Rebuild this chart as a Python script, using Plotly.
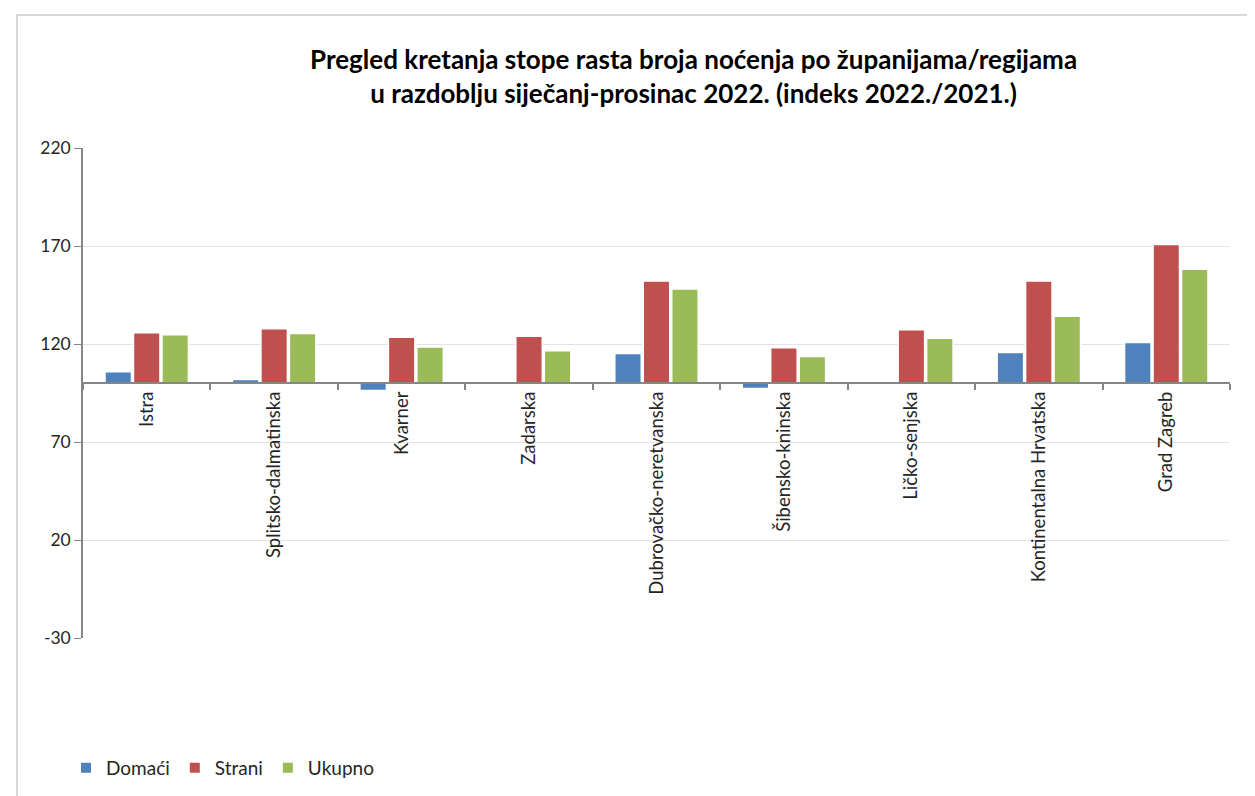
import plotly.graph_objects as go

categories = ["Istra", "Splitsko-dalmatinska", "Kvarner", "Zadarska",
              "Dubrovačko-neretvanska", "Šibensko-kninska", "Ličko-senjska",
              "Kontinentalna Hrvatska", "Grad Zagreb"]
domaci = [105.8, 101.9, 96.3, 99.2, 115.1, 97.3, 99.3, 115.6, 120.8]
strani = [125.8, 127.8, 123.4, 123.9, 152.2, 118.1, 127.3, 152.2, 170.8]
ukupno = [124.7, 125.3, 118.5, 116.6, 148.1, 113.6, 122.9, 134.1, 158.1]
y_ticks = [-30, 20, 70, 120, 170, 220]
base_value = 100

series = [("Domaći", domaci, "#4F81BD"),
          ("Strani", strani, "#C0504D"),
          ("Ukupno", ukupno, "#9BBB59")]

W, H = 1255, 796
ML, MR, MT, MB = 75, 33, 140, 166
PW, PH = W - ML - MR, H - MT - MB

def px_x(p):
    return (p - ML) / PW

def px_y(p):
    return (H - MB - p) / PH

fig = go.Figure()
for name, vals, col in series:
    fig.add_trace(go.Bar(
        name=name, x=categories, y=[v - base_value for v in vals], base=base_value,
        marker=dict(color=col, line=dict(color="white", width=1.5)),
        hovertemplate="%{x}: %{customdata}<extra>" + name + "</extra>",
        customdata=vals,
    ))

font_family = "Lato, 'Open Sans', sans-serif"
ymin, ymax = y_ticks[0], y_ticks[-1]
text_col = "#262626"

fig.update_layout(
    width=W, height=H,
    margin=dict(l=ML, r=MR, t=MT, b=MB),
    paper_bgcolor="white", plot_bgcolor="white",
    barmode="group", bargap=0.33, bargroupgap=0.07,
    font=dict(family=font_family, size=18, color=text_col),
    showlegend=True,
    legend=dict(orientation="h", x=px_x(58), xanchor="left", y=px_y(760), yanchor="middle",
                font=dict(size=19, color=text_col), itemwidth=30, traceorder="normal",
                itemsizing="constant"),
    xaxis=dict(
        type="category", anchor="free", position=(base_value - ymin) / (ymax - ymin),
        showline=True, linecolor="#868686", linewidth=2,
        ticks="outside", tickson="boundaries", ticklen=6, tickcolor="#868686", tickwidth=1.5,
        tickangle=-90, tickfont=dict(size=18.5, color=text_col),
        showgrid=False, zeroline=False, fixedrange=True,
    ),
    yaxis=dict(
        range=[ymin, ymax], tickvals=y_ticks, ticktext=[str(t) for t in y_ticks],
        showline=True, linecolor="#868686", linewidth=1.5,
        ticks="outside", ticklen=7, tickcolor="#868686",
        showgrid=True, gridcolor="#E3E3E3", gridwidth=1, zeroline=False,
        tickfont=dict(size=17.5, color=text_col),
    ),
)

fig.add_annotation(
    text="<b>Pregled kretanja stope rasta broja noćenja po županijama/regijama<br>"
         "u razdoblju siječanj-prosinac 2022. (indeks 2022./2021.)</b>",
    xref="paper", yref="paper", x=px_x(685), y=px_y(68), xanchor="center", yanchor="middle",
    showarrow=False, font=dict(size=26, color="#000000", family=font_family),
)

fig.add_shape(type="rect", xref="paper", yref="paper",
              x0=px_x(9), x1=px_x(1262), y0=px_y(803), y1=px_y(7),
              line=dict(color="#D9D9D9", width=2), fillcolor="rgba(0,0,0,0)", layer="below")

fig.write_html("out.html")
